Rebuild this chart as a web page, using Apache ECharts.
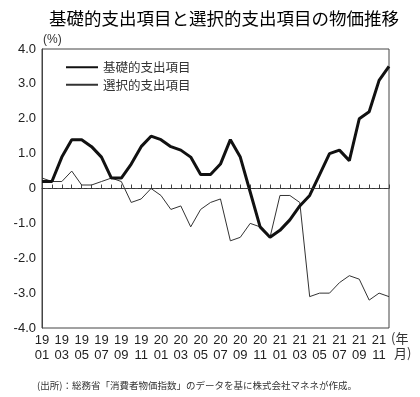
<!DOCTYPE html>
<html>
<head>
<meta charset="utf-8">
<script src="https://cdn.jsdelivr.net/npm/echarts@6/dist/echarts.min.js"></script>
<style>
  html, body { margin: 0; padding: 0; background: #fff; }
  #main { width: 420px; height: 397px; }
</style>
</head>
<body>
<div id="main"></div>
<script>
  // 年月（19/01〜21/12）
  var months = [
    '19/01','19/02','19/03','19/04','19/05','19/06','19/07','19/08','19/09','19/10','19/11','19/12',
    '20/01','20/02','20/03','20/04','20/05','20/06','20/07','20/08','20/09','20/10','20/11','20/12',
    '21/01','21/02','21/03','21/04','21/05','21/06','21/07','21/08','21/09','21/10','21/11','21/12'
  ];
  // 基礎的支出項目（%）
  var basicItems = [
    0.2, 0.2, 0.9, 1.4, 1.4, 1.2, 0.9, 0.3, 0.3, 0.7, 1.2, 1.5,
    1.4, 1.2, 1.1, 0.9, 0.4, 0.4, 0.7, 1.4, 0.9, -0.1, -1.1, -1.4,
    -1.2, -0.9, -0.5, -0.2, 0.4, 1.0, 1.1, 0.8, 2.0, 2.2, 3.1, 3.5
  ];
  // 選択的支出項目（%）
  var optionalItems = [
    0.3, 0.2, 0.2, 0.5, 0.1, 0.1, 0.2, 0.3, 0.2, -0.4, -0.3, 0.0,
    -0.2, -0.6, -0.5, -1.1, -0.6, -0.4, -0.3, -1.5, -1.4, -1.0, -1.1, -1.4,
    -0.2, -0.2, -0.4, -3.1, -3.0, -3.0, -2.7, -2.5, -2.6, -3.2, -3.0, -3.1
  ];
  var seriesNames = ['基礎的支出項目', '選択的支出項目'];

  var font = '"Liberation Sans", "Noto Sans CJK JP", sans-serif';
  var jpFont = '"Noto Sans CJK JP", sans-serif';

  var myChart = echarts.init(document.getElementById('main'));
  var option = {
    animation: false,
    backgroundColor: '#fff',
    title: {
      text: '基礎的支出項目と選択的支出項目の物価推移',
      left: 44,
      top: 5,
      textStyle: {
        fontFamily: jpFont,
        fontSize: 17.5,
        fontWeight: 'normal',
        color: '#000'
      }
    },
    legend: {
      orient: 'vertical',
      left: 60,
      top: 56,
      itemWidth: 32,
      itemHeight: 10,
      itemGap: 5,
      data: seriesNames,
      itemStyle: { opacity: 0 },
      textStyle: {
        fontFamily: jpFont,
        fontSize: 12.5,
        color: '#333'
      }
    },
    grid: {
      left: 42,
      right: 31,
      top: 49,
      bottom: 69,
      show: true,
      borderColor: '#444',
      borderWidth: 1
    },
    xAxis: {
      type: 'category',
      boundaryGap: false,
      data: months,
      axisLine: { lineStyle: { color: '#444', width: 1 } },
      axisTick: { inside: true, length: 4, interval: 0, lineStyle: { color: '#444' } },
      axisLabel: {
        interval: 1,
        margin: 5,
        fontFamily: font,
        fontSize: 13,
        lineHeight: 15,
        color: '#222',
        formatter: function (v) { return v.replace('/', '\n'); }
      },
      splitLine: { show: false }
    },
    yAxis: {
      type: 'value',
      min: -4,
      max: 4,
      interval: 1,
      axisLine: { show: true, lineStyle: { color: '#444', width: 1 } },
      axisTick: { show: false },
      splitLine: { show: false },
      axisLabel: {
        margin: 6,
        fontFamily: font,
        fontSize: 13,
        color: '#222',
        formatter: function (v) { return v === 0 ? '0' : v.toFixed(1); }
      }
    },
    graphic: [
      {
        type: 'text', left: 43, top: 34,
        style: { text: '(%)', font: '12px ' + font, fill: '#333' }
      },
      {
        type: 'text', left: 391, top: 331,
        style: { text: '(年\n 月)', font: '13px ' + jpFont, fill: '#333', lineHeight: 15 }
      },
      {
        type: 'text', left: 37, top: 381,
        style: { text: '(出所)：総務省「消費者物価指数」のデータを基に株式会社マネネが作成。', font: '9.5px ' + jpFont, fill: '#333' }
      }
    ],
    series: [
      {
        name: seriesNames[0],
        type: 'line',
        data: basicItems,
        symbol: 'none',
        z: 3,
        lineStyle: { color: '#111', width: 3 },
        itemStyle: { color: '#111' },
        markLine: {
          silent: true,
          symbol: 'none',
          label: { show: false },
          lineStyle: { color: '#333', width: 1, type: [3, 3] },
          data: [{ yAxis: 0 }]
        }
      },
      {
        name: seriesNames[1],
        type: 'line',
        data: optionalItems,
        symbol: 'none',
        z: 2,
        lineStyle: { color: '#333', width: 1 },
        itemStyle: { color: '#333' }
      }
    ]
  };
  myChart.setOption(option);
</script>
</body>
</html>
